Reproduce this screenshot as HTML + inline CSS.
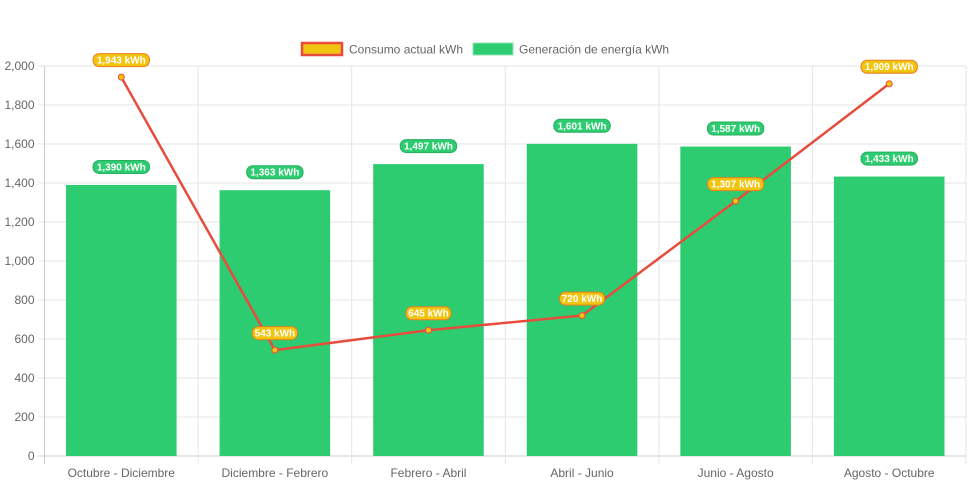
<!DOCTYPE html>
<html><head><meta charset="utf-8"><style>
html,body{margin:0;padding:0;background:#fff;}
svg{display:block;font-family:"Liberation Sans",Arial,sans-serif;}
</style></head><body>
<svg id="chart" width="971" height="485">
<g id="grid"></g>
<g id="bars"></g>
<g id="line"></g>
<g id="labels"></g>
<g>
 <g>
  <rect x="302" y="43" width="40" height="12" fill="#f1c40f" stroke="#e74c3c" stroke-width="2.5"/>
  <text x="349" y="53.5" font-size="12" fill="#666">Consumo actual kWh</text>
 </g>
 <g>
  <rect x="473" y="43" width="40" height="12" fill="#2ecc71" stroke="#8fe6b3" stroke-width="1"/>
  <text x="519" y="53.5" font-size="12" fill="#666">Generación de energía kWh</text>
 </g>
</g>
</svg>
<script>
const categories=["Octubre - Diciembre","Diciembre - Febrero","Febrero - Abril","Abril - Junio","Junio - Agosto","Agosto - Octubre"];
const generation=[1390,1363,1497,1601,1587,1433];
const consumption=[1943,543,645,720,1307,1909];
const yTicks=[0,200,400,600,800,1000,1200,1400,1600,1800,2000];
const NS="http://www.w3.org/2000/svg";
const L=44.5,R=966,T=66,B=456,yMax=2000;
const bw=(R-L)/categories.length;
function y(v){return B-(v/yMax)*(B-T);}
function xc(i){return L+bw*(i+0.5);}
function mk(tag,attrs,parent,txt){const e=document.createElementNS(NS,tag);for(const k in attrs)e.setAttribute(k,attrs[k]);if(txt!==undefined)e.textContent=txt;parent.appendChild(e);return e;}
const grid=document.getElementById('grid');
yTicks.forEach(t=>{
 const ln=mk('line',{x1:L-6,x2:R,y1:y(t),y2:y(t),stroke:t===0?'#ccc':'#e5e5e5','stroke-width':1},grid);
 
 
 const tx=mk('text',{x:L-10,y:y(t)+4,'text-anchor':'end','font-size':12,fill:'#666'},grid,t.toLocaleString('en-US'));
 
 
});
for(let i=0;i<=categories.length;i++){
 const x=L+bw*i;
 const ln=mk('line',{x1:x,x2:x,y1:T,y2:B+8,stroke:i===0?'#ccc':'#e5e5e5','stroke-width':1},grid);
 
 
}
categories.forEach((c,i)=>{
 const tx=mk('text',{x:xc(i),y:477,'text-anchor':'middle','font-size':12,fill:'#666'},grid,c);
 
 
});
const bars=document.getElementById('bars');
const barW=bw*0.72;
generation.forEach((v,i)=>{
 const r=mk('rect',{x:xc(i)-barW/2,y:y(v),width:barW,height:B-y(v),fill:'#2ecc71'},bars);
 
 
});
const line=document.getElementById('line');
const pts=consumption.map((v,i)=>xc(i)+','+y(v)).join(' ');
const pl=mk('polyline',{points:pts,fill:'none',stroke:'#e74c3c','stroke-width':2.5},line);


consumption.forEach((v,i)=>{
 const c=mk('circle',{cx:xc(i),cy:y(v),r:3,fill:'#f1c40f',stroke:'#e74c3c','stroke-width':1},line);
 
 
});
const labels=document.getElementById('labels');
function pill(cx,cy,txt,fill,stroke){
 const w=txt.length*5.6+6;
 const g=mk('g',{},labels);
 
 
 mk('rect',{x:cx-w/2,y:cy-6.5,width:w,height:13,rx:6,fill:fill,stroke:stroke,'stroke-width':1},g);
 mk('text',{x:cx,y:cy+3.5,'text-anchor':'middle','font-size':10,'font-weight':'bold',fill:'#fff'},g,txt);
}
generation.forEach((v,i)=>pill(xc(i),y(v)-18,v.toLocaleString('en-US')+' kWh','#2ecc71','#27ae60'));
consumption.forEach((v,i)=>pill(xc(i),y(v)-17,v.toLocaleString('en-US')+' kWh','#f1c40f','#e67e22'));
</script>
</body></html>
